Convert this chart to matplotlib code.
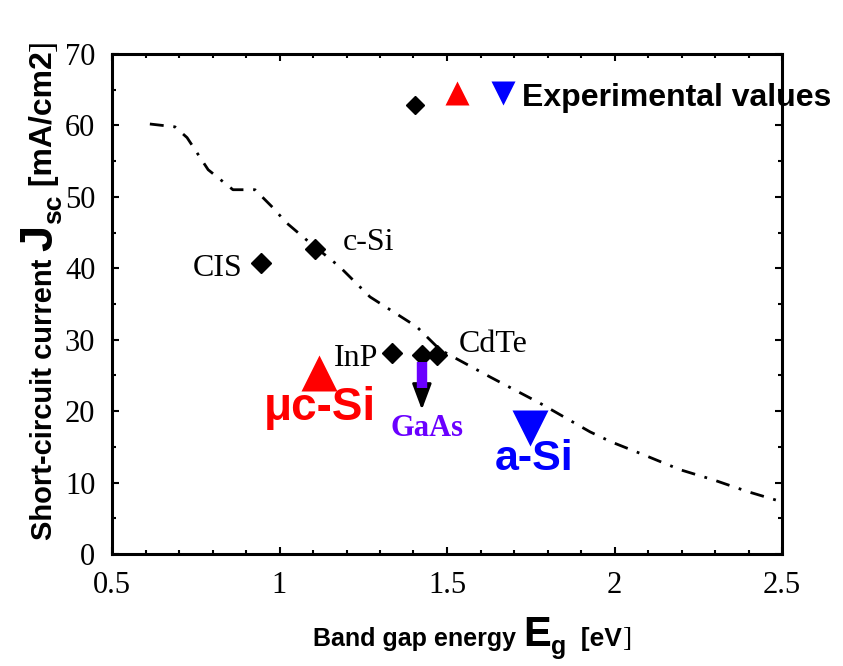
# Short-circuit current vs band gap energy
import matplotlib
matplotlib.use("Agg")
import matplotlib.pyplot as plt
from matplotlib.ticker import MultipleLocator

# theoretical limit curve (dash-dot)
curva_x = [0.613, 0.688, 0.724, 0.787, 0.861, 0.927, 0.98, 1.02, 1.08, 1.18, 1.27,
           1.41, 1.479, 1.628, 1.778, 1.927, 1.99, 2.076, 2.196, 2.294, 2.40, 2.5]
curva_y = [60.2, 59.8, 58.3, 53.8, 51.0, 51.0, 48.5, 46.4, 44.0, 40.2, 36.0,
           31.8, 28.6, 24.8, 21.1, 17.1, 15.7, 14.1, 11.8, 10.4, 8.7, 7.3]

# crystalline materials (black diamonds)
mat_nomes = ["CIS", "c-Si", "InP", "GaAs", "CdTe"]
mat_x = [0.945, 1.106, 1.335, 1.424, 1.469]
mat_y = [40.7, 42.7, 28.1, 27.9, 27.9]

# experimental thin film values
uc_si = (1.118, 25.3)
a_si = (1.748, 17.6)

# legend symbols at the top
leg_diam = (1.405, 62.9)
leg_tri_up = (1.53, 64.5)
leg_tri_dn = (1.667, 64.5)

# GaAs arrow (black) and purple bar
seta_x = 1.425
seta_y = [27.0, 20.2]
barra_y = [26.9, 23.2]

SERIF = "Liberation Serif"
SANS = "Liberation Sans"
ROXO = "#6a00ff"

W, H = 843, 666
fig = plt.figure(figsize=(W / 100, H / 100), dpi=100)
ax = fig.add_axes([112 / W, 1 - 554 / H, 670 / W, 500 / H])

ax.plot(curva_x, curva_y, color="k", lw=2, linestyle=(0, (5, 3.5, 1, 3.5)))
ax.plot(mat_x, mat_y, "D", color="k", ms=10, ls="none")
ax.plot(*uc_si, "^", color="red", ms=26, mec="none")
ax.plot(*a_si, "v", color="blue", ms=26, mec="none")
ax.plot(*leg_diam, "D", color="k", ms=9)
ax.plot(*leg_tri_up, "^", color="red", ms=17, mec="none")
ax.plot(*leg_tri_dn, "v", color="blue", ms=17, mec="none")

ax.annotate("", xy=(seta_x, seta_y[1]), xytext=(seta_x, seta_y[0]),
            arrowprops=dict(arrowstyle="-|>,head_length=0.8,head_width=0.3",
                            mutation_scale=20, color="k", lw=2,
                            shrinkA=0, shrinkB=0))
ax.plot([seta_x, seta_x], barra_y, color=ROXO, lw=7.5,
        solid_capstyle="butt", zorder=5)

# labels of the points
ax.text(0.891, 40.0, "CIS", fontsize=23, family=SERIF, ha="right", va="center")
ax.text(1.19, 42.6, "c-Si", fontsize=23, family=SERIF, ha="left", va="baseline")
ax.text(1.294, 26.3, "InP", fontsize=23, family=SERIF, ha="right", va="baseline")
ax.text(1.535, 28.3, "CdTe", fontsize=23, family=SERIF, ha="left", va="baseline")
ax.text(1.12, 18.8, "\u03bcc-Si", fontsize=33, family=SANS, weight="bold",
        color="red", ha="center", va="baseline")
ax.text(1.44, 16.5, "GaAs", fontsize=22, family=SERIF, weight="bold",
        color=ROXO, ha="center", va="baseline")
ax.text(1.76, 11.8, "a-Si", fontsize=31, family=SANS, weight="bold",
        color="blue", ha="center", va="baseline")
ax.text(1.725, 62.7, "Experimental values", fontsize=23, family=SANS,
        weight="bold", ha="left", va="baseline", clip_on=False)

ax.set_xlim(0.5, 2.5)
ax.set_ylim(0, 70)
ax.set_xticks([0.5, 1, 1.5, 2, 2.5])
ax.set_xticklabels(["0.5", "1", "1.5", "2", "2.5"])
ax.set_yticks(range(0, 71, 10))
ax.xaxis.set_minor_locator(MultipleLocator(0.1))
ax.yaxis.set_minor_locator(MultipleLocator(5))
ax.tick_params(which="both", direction="in", top=True, right=True, width=1.5)
ax.tick_params(which="major", length=5, labelsize=22, pad=12)
ax.tick_params(which="minor", length=3)
for lab in ax.get_xticklabels() + ax.get_yticklabels():
    lab.set_family(SERIF)
for s in ax.spines.values():
    s.set_linewidth(2.2)

# axis titles built from pieces of different sizes
ren = fig.canvas.get_renderer()


def pecas_h(x0, y0, pecas):
    x = x0
    for txt, size, fam, wt, dy in pecas:
        t = fig.text(x / W, 1 - (y0 + dy) / H, txt, fontsize=size, family=fam,
                     weight=wt, ha="left", va="baseline")
        x = t.get_window_extent(ren).x1


def pecas_v(x0, y0, pecas):
    y = H - y0
    for txt, size, fam, wt, dx in pecas:
        t = fig.text((x0 + dx) / W, y / H, txt, fontsize=size, family=fam,
                     weight=wt, rotation=90, rotation_mode="anchor",
                     ha="left", va="baseline")
        y = t.get_window_extent(ren).y1


pecas_h(313, 646, [("Band gap energy ", 18, SANS, "bold", 0),
                   ("E", 30, SANS, "bold", 0),
                   ("g", 18, SANS, "bold", 8),
                   ("  [eV", 19, SANS, "bold", 0),
                   ("]", 20, SERIF, "normal", 0)])
pecas_v(52, 540, [("Short-circuit current ", 21, SANS, "bold", 0),
                  ("J", 34, SANS, "bold", 0),
                  ("sc", 19, SANS, "bold", 9),
                  (" [mA/cm2", 23, SANS, "bold", 0),
                  ("]", 24, SERIF, "normal", 0)])

fig.savefig("out.png", dpi=100)
